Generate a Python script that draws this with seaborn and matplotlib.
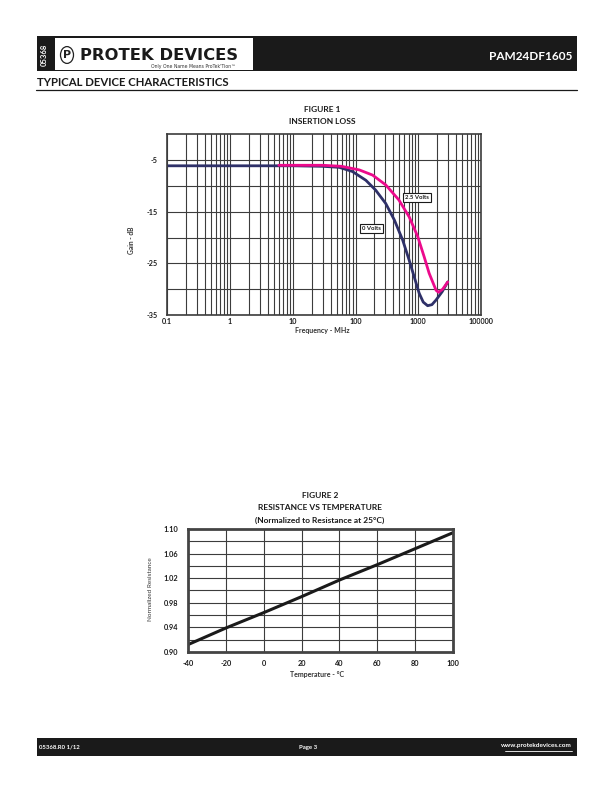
import numpy as np
import pandas as pd
import matplotlib
matplotlib.use("Agg")
import matplotlib.pyplot as plt
import seaborn as sns
from matplotlib.patches import Rectangle, Circle
from matplotlib.lines import Line2D
from matplotlib.ticker import FixedLocator, NullFormatter

# ---------------- data ----------------
freq_0v = [0.1, 1, 10, 30, 55, 89, 146, 209, 303, 416, 565, 717, 861, 1035, 1200, 1410, 1650, 1920, 2400, 2950]
gain_0v = [-6.1, -6.1, -6.1, -6.2, -6.4, -7.2, -8.9, -10.8, -13.4, -16.6, -20.5, -24.4, -27.6, -30.8, -32.5, -33.2, -33.0, -32.1, -30.5, -28.6]

freq_25v = [6, 30, 60, 115, 187, 303, 490, 717, 980, 1240, 1490, 1920, 2100, 2450, 2950]
gain_25v = [-6.0, -6.0, -6.2, -6.9, -7.9, -9.8, -12.7, -16.0, -19.8, -23.7, -26.9, -30.2, -30.6, -30.0, -28.6]

freq_ticks = [0.1, 1, 10, 100, 1000, 10000]
freq_tick_labels = ["0.1", "1", "10", "100", "1000", "100000"]
gain_ticks = [-5, -15, -25, -35]
gain_minor = [-10, -20, -30]
series_labels = ["0 Volts", "2.5 Volts"]

temps = [-40, -20, 0, 20, 40, 60, 80, 100]
norm_res = [0.912, 0.939, 0.964, 0.990, 1.017, 1.042, 1.068, 1.094]
res_ticks = [0.90, 0.94, 0.98, 1.02, 1.06, 1.10]
res_minor = [0.92, 0.96, 1.00, 1.04, 1.08]

# ---------------- style ----------------
sns.set_theme(style="white")
plt.rcParams['font.family'] = ['Lato', 'DejaVu Sans']
plt.rcParams['axes.unicode_minus'] = False

W, H = 612, 792
fig = plt.figure(figsize=(W / 100, H / 100), dpi=100)


def fx(x):
    return x / W


def fy(y):
    return 1 - y / H


def ftext(x, y, s, **kw):
    fig.text(fx(x), fy(y), s, **kw)


GRID = '#3c3c3c'
NAVY = '#2e3068'
PINK = '#ec0a8c'

# ---------------- header ----------------
fig.add_artist(Rectangle((fx(36.5), fy(71)), fx(577) - fx(36.5), fy(36) - fy(71),
                         transform=fig.transFigure, facecolor='#1a1a1a', edgecolor='none'))
fig.add_artist(Rectangle((fx(55), fy(70)), fx(253) - fx(55), fy(37.5) - fy(70),
                         transform=fig.transFigure, facecolor='white', edgecolor='none'))
ftext(44.5, 54.5, "05368", color='white', fontsize=5.5, fontweight='bold',
      rotation=90, ha='center', va='center')
fig.add_artist(Circle((fx(67), fy(55)), 6.5 / W, transform=fig.transFigure,
                      facecolor='white', edgecolor='#222222', lw=0.9))
ftext(67, 55.5, "P", fontsize=8, fontweight='bold', ha='center', va='center',
      family='DejaVu Sans', color='#222222')
ftext(159, 56, "PROTEK DEVICES", fontsize=11.8, fontweight='heavy', ha='center', va='center',
      family='DejaVu Sans', color='#1a1a1a')
ftext(236, 66.5, "Only One Name Means ProTek'Tion\u2122", fontsize=3.3, ha='right', va='center',
      family='DejaVu Sans', color='#333333')
ftext(572, 57, "PAM24DF1605", color='white', fontsize=8.5, fontweight='bold', ha='right', va='center')

ftext(37, 82, "TYPICAL DEVICE CHARACTERISTICS", fontsize=8.2, fontweight='bold',
      ha='left', va='center', color='#1a1a1a')
fig.add_artist(Line2D([fx(36), fx(577)], [fy(89.5), fy(89.5)], transform=fig.transFigure,
                      color='#1a1a1a', lw=0.9))

# ---------------- footer ----------------
fig.add_artist(Rectangle((fx(36.5), fy(756)), fx(577) - fx(36.5), fy(738) - fy(756),
                         transform=fig.transFigure, facecolor='#1a1a1a', edgecolor='none'))
ftext(39, 747, "05368.R0 1/12", color='white', fontsize=4.3, fontweight='bold', ha='left', va='center')
ftext(308, 747, "Page 3", color='white', fontsize=4.3, fontweight='bold', ha='center', va='center')
ftext(572, 746, "www.protekdevices.com", color='white', fontsize=4.6, fontweight='bold',
      ha='right', va='center')
fig.add_artist(Line2D([fx(505), fx(572)], [fy(750.5), fy(750.5)], transform=fig.transFigure,
                      color='white', lw=0.6))

# ---------------- figure 1 ----------------
ax1 = fig.add_axes([fx(167.3), fy(315), fx(481) - fx(167.3), fy(134.3) - fy(315)])
df1 = pd.concat([
    pd.DataFrame({"freq": freq_0v, "gain": gain_0v, "bias": series_labels[0]}),
    pd.DataFrame({"freq": freq_25v, "gain": gain_25v, "bias": series_labels[1]}),
])
sns.lineplot(data=df1, x="freq", y="gain", hue="bias", palette=[NAVY, PINK],
             sort=False, estimator=None, lw=2.0, legend=False, ax=ax1)
ax1.set_xscale('log')
ax1.set_xlim(0.1, 10000)
ax1.set_ylim(-35, 0)
ax1.xaxis.set_major_locator(FixedLocator(freq_ticks))
ax1.set_xticklabels(freq_tick_labels)
minor_x = [m * d for d in [0.1, 1, 10, 100, 1000] for m in range(2, 10)]
ax1.xaxis.set_minor_locator(FixedLocator(minor_x))
ax1.xaxis.set_minor_formatter(NullFormatter())
ax1.yaxis.set_major_locator(FixedLocator(gain_ticks))
ax1.yaxis.set_minor_locator(FixedLocator(gain_minor))
ax1.grid(True, which='both', color=GRID, lw=0.8)
ax1.set_axisbelow(True)
for s in ax1.spines.values():
    s.set_color(GRID)
    s.set_linewidth(1.2)
ax1.tick_params(axis='both', which='both', length=0, labelsize=5.2, colors='#1a1a1a')
ax1.tick_params(axis='y', pad=7)
ax1.tick_params(axis='x', pad=2.5)
for lab in ax1.get_xticklabels() + ax1.get_yticklabels():
    lab.set_fontweight('bold')
ax1.set_xlabel("")
ax1.set_ylabel("")

ax1.text(955, -12.3, series_labels[1], fontsize=4.3, fontweight='bold', ha='center', va='center',
         color='#1a1a1a', bbox=dict(boxstyle='square,pad=0.35', facecolor='white',
                                    edgecolor='#1a1a1a', lw=0.8), zorder=5)
ax1.text(181, -18.2, series_labels[0], fontsize=4.3, fontweight='bold', ha='center', va='center',
         color='#1a1a1a', bbox=dict(boxstyle='square,pad=0.35', facecolor='white',
                                    edgecolor='#1a1a1a', lw=0.8), zorder=5)

ftext(322, 110, "FIGURE 1", fontsize=6, fontweight='bold', ha='center', va='center', color='#1a1a1a')
ftext(322, 121, "INSERTION LOSS", fontsize=6, fontweight='bold', ha='center', va='center', color='#1a1a1a')
ftext(132, 240, "Gain - dB", fontsize=4.8, fontweight='bold', ha='center', va='center',
      rotation=90, color='#333333')
ftext(322, 330.5, "Frequency - MHz", fontsize=5, fontweight='bold', ha='center', va='center', color='#333333')

# ---------------- figure 2 ----------------
ax2 = fig.add_axes([fx(188), fy(652), fx(453) - fx(188), fy(529) - fy(652)])
df2 = pd.DataFrame({"temp": temps, "res": norm_res})
sns.lineplot(data=df2, x="temp", y="res", color='#1a1a1a', lw=2.2, ax=ax2)
ax2.set_xlim(-40, 100)
ax2.set_ylim(0.90, 1.10)
ax2.xaxis.set_major_locator(FixedLocator(temps))
ax2.yaxis.set_major_locator(FixedLocator(res_ticks))
ax2.yaxis.set_minor_locator(FixedLocator(res_minor))
ax2.set_yticklabels([f"{v:.2f}" for v in res_ticks])
ax2.grid(True, which='both', color=GRID, lw=0.8)
ax2.set_axisbelow(True)
for s in ax2.spines.values():
    s.set_color('#444444')
    s.set_linewidth(2.0)
ax2.tick_params(axis='both', which='both', length=0, labelsize=5.3, colors='#1a1a1a')
ax2.tick_params(axis='y', pad=7)
ax2.tick_params(axis='x', pad=6)
for lab in ax2.get_xticklabels() + ax2.get_yticklabels():
    lab.set_fontweight('bold')
ax2.set_xlabel("")
ax2.set_ylabel("")

ftext(320, 496, "FIGURE 2", fontsize=6, fontweight='bold', ha='center', va='center', color='#1a1a1a')
ftext(320, 508, "RESISTANCE VS TEMPERATURE", fontsize=6, fontweight='bold', ha='center', va='center',
      color='#1a1a1a')
ftext(320, 520, "(Normalized to Resistance at 25\u00b0C)", fontsize=6, fontweight='bold',
      ha='center', va='center', color='#1a1a1a')
ftext(151, 589, "Normalized Resistance", fontsize=4.6, ha='center', va='center', rotation=90,
      color='#333333')
ftext(317, 674, "Temperature - \u00b0C", fontsize=5, fontweight='bold', ha='center', va='center',
      color='#333333')

fig.savefig("out.png", dpi=100)
